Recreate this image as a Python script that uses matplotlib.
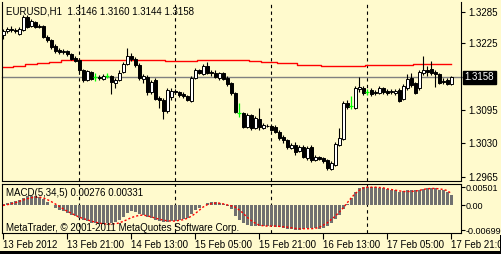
import matplotlib
matplotlib.use('Agg')
import matplotlib.pyplot as plt
import numpy as np
from matplotlib.transforms import blended_transform_factory
from matplotlib.patches import Rectangle

plt.rcParams['font.family'] = ['Liberation Sans', 'DejaVu Sans']

# ---------------- data (EURUSD H1, 13 Feb 05:00 .. 17 Feb 21:00 2012) ----------------
opens = [1.3240, 1.3248, 1.3252, 1.3250, 1.3242, 1.3250, 1.3275, 1.3258, 1.3266, 1.3256,
         1.3258, 1.3236, 1.3231, 1.3219, 1.3211, 1.3207, 1.3209, 1.3204, 1.3196, 1.3192,
         1.3173, 1.3153, 1.3169, 1.3159, 1.3159, 1.3155, 1.3161, 1.3161, 1.3147, 1.3153,
         1.3169, 1.3184, 1.3200, 1.3194, 1.3182, 1.3155, 1.3159, 1.3130, 1.3153, 1.3118,
         1.3114, 1.3093, 1.3120, 1.3132, 1.3130, 1.3126, 1.3122, 1.3112, 1.3157, 1.3173,
         1.3165, 1.3180, 1.3169, 1.3167, 1.3157, 1.3167, 1.3157, 1.3147, 1.3128, 1.3089,
         1.3089, 1.3062, 1.3085, 1.3060, 1.3077, 1.3060, 1.3064, 1.3064, 1.3062, 1.3052,
         1.3043, 1.3037, 1.3021, 1.3027, 1.3015, 1.3023, 1.3002, 1.3023, 1.2998, 1.3004,
         1.3002, 1.2998, 1.2980, 1.2988, 1.3027, 1.3039, 1.3108, 1.3103, 1.3099, 1.3136,
         1.3138, 1.3130, 1.3134, 1.3130, 1.3128, 1.3138, 1.3132, 1.3130, 1.3128, 1.3134,
         1.3116, 1.3138, 1.3157, 1.3147, 1.3138, 1.3167, 1.3173, 1.3174, 1.3169, 1.3165,
         1.3151, 1.3153, 1.3146]
highs = [1.3252, 1.3256, 1.3258, 1.3254, 1.3256, 1.3279, 1.3279, 1.3271, 1.3268, 1.3262,
         1.3260, 1.3240, 1.3233, 1.3223, 1.3215, 1.3213, 1.3211, 1.3205, 1.3200, 1.3194,
         1.3174, 1.3173, 1.3171, 1.3167, 1.3163, 1.3165, 1.3167, 1.3163, 1.3157, 1.3173,
         1.3188, 1.3215, 1.3205, 1.3198, 1.3186, 1.3165, 1.3163, 1.3153, 1.3157, 1.3122,
         1.3118, 1.3138, 1.3138, 1.3136, 1.3132, 1.3130, 1.3124, 1.3161, 1.3176, 1.3174,
         1.3184, 1.3188, 1.3173, 1.3173, 1.3169, 1.3169, 1.3161, 1.3149, 1.3130, 1.3108,
         1.3091, 1.3089, 1.3087, 1.3083, 1.3099, 1.3070, 1.3068, 1.3068, 1.3066, 1.3056,
         1.3046, 1.3039, 1.3031, 1.3033, 1.3027, 1.3027, 1.3025, 1.3027, 1.3008, 1.3006,
         1.3004, 1.3000, 1.2996, 1.3033, 1.3060, 1.3112, 1.3114, 1.3122, 1.3141, 1.3159,
         1.3141, 1.3136, 1.3138, 1.3134, 1.3141, 1.3140, 1.3136, 1.3136, 1.3136, 1.3138,
         1.3145, 1.3165, 1.3167, 1.3149, 1.3173, 1.3200, 1.3180, 1.3190, 1.3173, 1.3167,
         1.3157, 1.3157, 1.3160]
lows = [1.3233, 1.3244, 1.3246, 1.3244, 1.3240, 1.3248, 1.3254, 1.3256, 1.3254, 1.3254,
        1.3235, 1.3227, 1.3213, 1.3205, 1.3204, 1.3204, 1.3200, 1.3192, 1.3188, 1.3169,
        1.3149, 1.3151, 1.3153, 1.3151, 1.3153, 1.3153, 1.3157, 1.3126, 1.3138, 1.3151,
        1.3167, 1.3182, 1.3190, 1.3178, 1.3153, 1.3147, 1.3124, 1.3126, 1.3114, 1.3099,
        1.3077, 1.3089, 1.3114, 1.3126, 1.3120, 1.3118, 1.3112, 1.3110, 1.3155, 1.3165,
        1.3163, 1.3165, 1.3161, 1.3157, 1.3153, 1.3153, 1.3141, 1.3124, 1.3089, 1.3081,
        1.3060, 1.3060, 1.3056, 1.3058, 1.3056, 1.3058, 1.3062, 1.3054, 1.3050, 1.3037,
        1.3031, 1.3019, 1.3019, 1.3008, 1.3013, 1.3002, 1.2998, 1.2994, 1.2996, 1.2998,
        1.2992, 1.2978, 1.2978, 1.2986, 1.3025, 1.3037, 1.3097, 1.3097, 1.3097, 1.3130,
        1.3124, 1.3124, 1.3122, 1.3124, 1.3126, 1.3126, 1.3124, 1.3126, 1.3124, 1.3110,
        1.3114, 1.3134, 1.3140, 1.3126, 1.3134, 1.3163, 1.3161, 1.3163, 1.3140, 1.3145,
        1.3145, 1.3143, 1.3144]
closes = [1.3248, 1.3252, 1.3250, 1.3248, 1.3252, 1.3275, 1.3256, 1.3268, 1.3256, 1.3258,
          1.3236, 1.3231, 1.3217, 1.3209, 1.3207, 1.3209, 1.3204, 1.3194, 1.3190, 1.3173,
          1.3153, 1.3171, 1.3155, 1.3159, 1.3157, 1.3161, 1.3161, 1.3149, 1.3153, 1.3167,
          1.3184, 1.3200, 1.3194, 1.3182, 1.3157, 1.3161, 1.3130, 1.3149, 1.3116, 1.3114,
          1.3093, 1.3134, 1.3132, 1.3130, 1.3124, 1.3122, 1.3114, 1.3157, 1.3173, 1.3167,
          1.3180, 1.3167, 1.3167, 1.3159, 1.3167, 1.3155, 1.3145, 1.3128, 1.3091, 1.3089,
          1.3062, 1.3085, 1.3060, 1.3079, 1.3062, 1.3066, 1.3063, 1.3056, 1.3052, 1.3041,
          1.3037, 1.3023, 1.3027, 1.3013, 1.3023, 1.3004, 1.3021, 1.2998, 1.3004, 1.3000,
          1.2996, 1.2982, 1.2992, 1.3029, 1.3041, 1.3108, 1.3101, 1.3103, 1.3138, 1.3140,
          1.3128, 1.3130, 1.3126, 1.3128, 1.3138, 1.3130, 1.3128, 1.3132, 1.3132, 1.3112,
          1.3141, 1.3155, 1.3143, 1.3128, 1.3169, 1.3173, 1.3169, 1.3167, 1.3165, 1.3147,
          1.3150, 1.3145, 1.3158]

# moving average (red line), read as flat levels and their lengths in bars
ma_levels = [1.3178, 1.3180, 1.3184, 1.3186, 1.3188, 1.3192, 1.3190, 1.3192,
             1.3190, 1.3188, 1.3186, 1.3182, 1.3180, 1.3182, 1.3184]
ma_counts = [3, 3, 3, 3, 3, 26, 8, 13, 3, 4, 5, 6, 11, 12, 10]

macd_hist = [0.00037, 0.00056, 0.00084, 0.00102, 0.00149, 0.00195, 0.00242, 0.00251, 0.00242, 0.00214,
             0.00158, 0.00084, -0.00009, -0.00074, -0.00130, -0.00167, -0.00223, -0.00270, -0.00316, -0.00372,
             -0.00428, -0.00456, -0.00493, -0.00512, -0.00521, -0.00521, -0.00512, -0.00502, -0.00474, -0.00428,
             -0.00335, -0.00223, -0.00167, -0.00186, -0.00242, -0.00288, -0.00335, -0.00372, -0.00428, -0.00446,
             -0.00484, -0.00484, -0.00456, -0.00446, -0.00428, -0.00391, -0.00353, -0.00260, -0.00149, -0.00074,
             0.00009, 0.00056, 0.00074, 0.00074, 0.00056, 0.00019, -0.00019, -0.00112, -0.00298, -0.00409,
             -0.00502, -0.00549, -0.00577, -0.00586, -0.00595, -0.00577, -0.00577, -0.00595, -0.00614, -0.00614,
             -0.00642, -0.00660, -0.00670, -0.00699, -0.00688, -0.00670, -0.00642, -0.00642, -0.00642, -0.00670,
             -0.00642, -0.00595, -0.00502, -0.00391, -0.00270, -0.00112, 0.00037, 0.00195, 0.00353, 0.00465,
             0.00501, 0.00501, 0.00501, 0.00501, 0.00484, 0.00474, 0.00446, 0.00428, 0.00428, 0.00353,
             0.00400, 0.00409, 0.00409, 0.00428, 0.00409, 0.00446, 0.00474, 0.00484, 0.00474, 0.00428,
             0.00409, 0.00353, 0.00276]
macd_signal = [-0.00009, 0.00009, 0.00037, 0.00065, 0.00102, 0.00140, 0.00177, 0.00205, 0.00223, 0.00223,
               0.00205, 0.00158, 0.00102, 0.00037, -0.00028, -0.00102, -0.00167, -0.00223, -0.00279, -0.00335,
               -0.00372, -0.00409, -0.00446, -0.00474, -0.00502, -0.00521, -0.00530, -0.00530, -0.00521, -0.00502,
               -0.00456, -0.00409, -0.00353, -0.00316, -0.00288, -0.00279, -0.00298, -0.00326, -0.00363, -0.00391,
               -0.00419, -0.00437, -0.00446, -0.00446, -0.00428, -0.00409, -0.00372, -0.00316, -0.00242, -0.00149,
               -0.00056, 0.00009, 0.00037, 0.00056, 0.00056, 0.00037, 0.00009, -0.00019, -0.00056, -0.00130,
               -0.00223, -0.00335, -0.00428, -0.00502, -0.00558, -0.00577, -0.00586, -0.00586, -0.00586, -0.00595,
               -0.00605, -0.00614, -0.00632, -0.00651, -0.00660, -0.00660, -0.00660, -0.00660, -0.00651, -0.00623,
               -0.00567, -0.00502, -0.00409, -0.00316, -0.00205, -0.00084, 0.00056, 0.00195, 0.00316, 0.00409,
               0.00474, 0.00501, 0.00501, 0.00501, 0.00493, 0.00484, 0.00456, 0.00437, 0.00419, 0.00400,
               0.00381, 0.00381, 0.00381, 0.00391, 0.00409, 0.00437, 0.00456, 0.00465, 0.00465, 0.00456,
               0.00437, 0.00409, 0.00331]

price_ticks = [1.3285, 1.3225, 1.3095, 1.3030, 1.2965]
macd_ticks = [0.00501, 0.0, -0.00699]
macd_tick_labels = ['0.00501', '0.00', '-0.00699']
time_tick_idx = [0, 16, 32, 48, 64, 80, 96, 112]
time_tick_labels = ['13 Feb 2012', '13 Feb 21:00', '14 Feb 13:00', '15 Feb 05:00',
                    '15 Feb 21:00', '16 Feb 13:00', '17 Feb 05:00', '17 Feb 21:00']
day_sep_idx = [19, 43, 67, 91]
header = 'EURUSD,H1  1.3146 1.3160 1.3144 1.3158'
macd_title = 'MACD(5,34,5) 0.00276 0.00331'
copyright_txt = 'MetaTrader, \u00a9 2001-2011 MetaQuotes Software Corp.'

# ---------------- drawing ----------------
BG = '#FFFACD'
W, H = 502, 254
FS = 7


def rect(l, t, r, b):
    return [l / W, 1 - b / H, (r - l) / W, (b - t) / H]


fig = plt.figure(figsize=(W / 100, H / 100), dpi=100, facecolor=BG)
ax = fig.add_axes(rect(2, 2, 461, 181), facecolor=BG)
ax2 = fig.add_axes(rect(2, 184, 461, 233), facecolor=BG, sharex=ax)

o = np.array(opens); h = np.array(highs); l = np.array(lows); c = np.array(closes)
n = len(o)
x = np.arange(n)
doji = np.isclose(o, c)
up = (c > o) & ~doji
dn = (c < o) & ~doji

ma = np.repeat(ma_levels, ma_counts)
ax.plot(x, ma, color='#FF0000', lw=1.0, drawstyle='steps-mid', zorder=1.5)
ax.axhline(c[-1], xmin=0, xmax=1 + 3 / 459, color='#808080', lw=1.0, zorder=1.4, clip_on=False)

ax.vlines(x[~doji], l[~doji], h[~doji], color='black', lw=0.8, zorder=2)
ax.bar(x[up], c[up] - o[up], bottom=o[up], width=0.75, color='white', edgecolor='black', lw=0.7, zorder=3)
ax.bar(x[dn], o[dn] - c[dn], bottom=c[dn], width=0.75, color='black', edgecolor='black', lw=0.7, zorder=3)
ax.vlines(x[doji], l[doji], h[doji], color='#00FF00', lw=0.9, zorder=3)
ax.hlines(c[doji], x[doji] - 0.45, x[doji] + 0.45, color='#00FF00', lw=0.9, zorder=3)

for i in day_sep_idx:
    for a in (ax, ax2):
        a.axvline(i, color='black', lw=0.8, ls=(0, (3, 3)), zorder=1)

ax.set_xlim(-0.25, 114.5)
ax.set_ylim(1.29572, 1.33044)
ax.yaxis.tick_right()
ax.set_yticks(price_ticks)
ax.set_yticklabels([f'{v:.4f}' for v in price_ticks])
ax.tick_params(axis='y', direction='out', length=3, width=0.8, pad=2, labelsize=FS, colors='black')
ax.tick_params(axis='x', bottom=False, labelbottom=False)
for s in ('left', 'right', 'bottom'):
    ax.spines[s].set_color('black'); ax.spines[s].set_linewidth(0.8)
ax.spines['top'].set_visible(False)

tr = blended_transform_factory(ax.transAxes, ax.transData)
ax.text(1 + 3.5 / 459, c[-1], f'{c[-1]:.4f}', transform=tr, ha='left', va='center', color='white',
        fontsize=FS, bbox=dict(boxstyle='square,pad=0.2', facecolor='black', edgecolor='black'), zorder=10,
        clip_on=False)
ax.text(4 / 459, 1 - 9 / 179, header, transform=ax.transAxes, ha='left', va='center', fontsize=FS,
        color='black', zorder=10)

# MACD panel
ax2.bar(x, macd_hist, width=0.75, color='#707070', lw=0, zorder=2)
ax2.plot(x, macd_signal, color='#FF0000', lw=1.0, ls=(0, (1.5, 1.5)), zorder=3)
ax2.set_ylim(-0.0078, 0.0059)
ax2.yaxis.tick_right()
ax2.set_yticks(macd_ticks)
ax2.set_yticklabels(macd_tick_labels)
ax2.tick_params(axis='y', direction='out', length=3, width=0.8, pad=0, labelsize=6.5, colors='black')
ax2.set_xticks(time_tick_idx)
ax2.set_xticklabels(time_tick_labels)
ax2.tick_params(axis='x', direction='out', length=4, width=0.8, pad=1, labelsize=FS, colors='black')
for t in ax2.get_xticklabels():
    t.set_ha('left')
for s in ax2.spines.values():
    s.set_color('black'); s.set_linewidth(0.8)
ax2.text(4 / 459, 1 - 9 / 49, macd_title, transform=ax2.transAxes, ha='left', va='center',
         fontsize=FS, zorder=10)
ax2.text(4 / 459, 1 - 44 / 49, copyright_txt, transform=ax2.transAxes, ha='left', va='center',
         fontsize=FS, zorder=10)

fig.patches.append(Rectangle((0, 0), 1, 3 / H, transform=fig.transFigure, facecolor='black',
                             edgecolor='none', zorder=20))
fig.patches.append(Rectangle((500 / W, 0), 2 / W, 19 / H, transform=fig.transFigure, facecolor='black',
                             edgecolor='none', zorder=20))

fig.savefig('out.png', dpi=100, facecolor=BG)
